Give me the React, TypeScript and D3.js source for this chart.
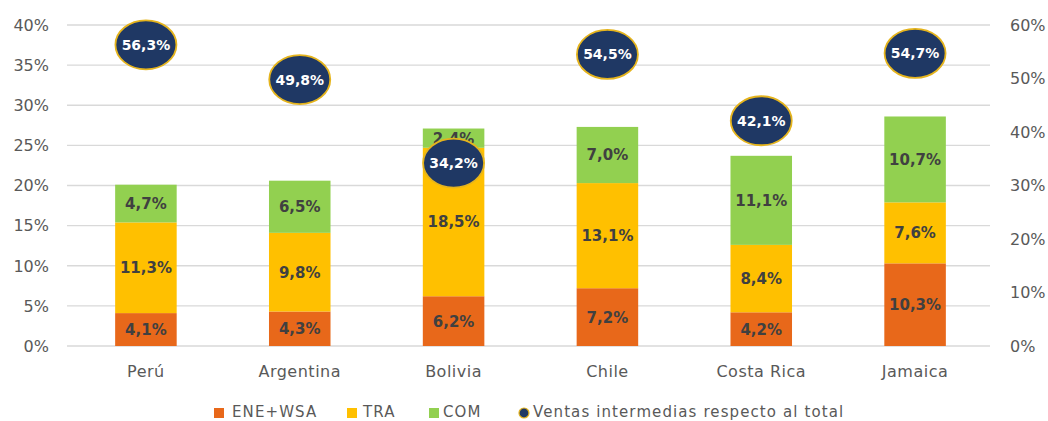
import React from "react";
import * as d3 from "d3";

const categories = ["Perú", "Argentina", "Bolivia", "Chile", "Costa Rica", "Jamaica"];
const ene = [4.1, 4.3, 6.2, 7.2, 4.2, 10.3];
const tra = [11.3, 9.8, 18.5, 13.1, 8.4, 7.6];
const com = [4.7, 6.5, 2.4, 7.0, 11.1, 10.7];
const ventas = [56.3, 49.8, 34.2, 54.5, 42.1, 54.7];
const leftTicks = [0, 5, 10, 15, 20, 25, 30, 35, 40];
const rightTicks = [0, 10, 20, 30, 40, 50, 60];
const seriesNames = ["ENE+WSA", "TRA", "COM", "Ventas intermedias respecto al total"];

const W = 1048, H = 421;
const colors = ["#e8681a", "#ffc000", "#92d050"];
const font = "'DejaVu Sans', Verdana, sans-serif";
const fmt = (v: number) => v.toFixed(1).replace(".", ",") + "%";

export default function App() {
  const x = d3.scaleBand<string>().domain(categories).range([69, 992]).paddingInner(0.6).paddingOuter(0.3);
  const yL = d3.scaleLinear().domain([0, 40]).range([346, 25]);
  const yR = d3.scaleLinear().domain([0, 60]).range([346, 25]);
  const series = [ene, tra, com];

  return (
    <svg width={W} height={H} style={{ position: "absolute", left: 0, top: 0, background: "#fff" }} fontFamily={font}>
      {leftTicks.map((t) => (
        <g key={"l" + t}>
          <line x1={67} x2={990} y1={yL(t)} y2={yL(t)} stroke="#d9d9d9" strokeWidth={1.3} />
          <text x={49} y={yL(t)} dy="0.36em" textAnchor="end" fontSize={16} fill="#595959">{t}%</text>
        </g>
      ))}
      {rightTicks.map((t) => (
        <text key={"r" + t} x={1010} y={yR(t)} dy="0.36em" textAnchor="start" fontSize={16} fill="#595959">{t}%</text>
      ))}
      {categories.map((c, i) => {
        let acc = 0;
        const bx = x(c)!;
        const bw = x.bandwidth();
        return (
          <g key={c}>
            {series.map((s, k) => {
              const y0 = acc;
              const y1 = acc + s[i];
              acc = y1;
              return (
                <g key={k}>
                  <rect x={bx} y={yL(y1)} width={bw} height={yL(y0) - yL(y1)} fill={colors[k]} />
                  <text x={bx + bw / 2} y={(yL(y0) + yL(y1)) / 2} dy="0.36em" textAnchor="middle" fontSize={15} fontWeight="bold" fill="#404040">{fmt(s[i])}</text>
                </g>
              );
            })}
            <text x={bx + bw / 2} y={371} dy="0.36em" textAnchor="middle" fontSize={16} letterSpacing={0.5} fill="#595959">{c}</text>
          </g>
        );
      })}
      {categories.map((c, i) => {
        const cx = x(c)! + x.bandwidth() / 2;
        const cy = yR(ventas[i]);
        return (
          <g key={"b" + c}>
            <ellipse cx={cx} cy={cy} rx={30.5} ry={24.5} fill="#1f3864" stroke="#e5b41d" strokeWidth={1.8} />
            <text x={cx} y={cy} dy="0.36em" textAnchor="middle" fontSize={14} fontWeight="bold" fill="#fff">{fmt(ventas[i])}</text>
          </g>
        );
      })}
      <g fontSize={15} fill="#595959" letterSpacing={1.1}>
        {[
          { sx: 214, tx: 232, k: 0 },
          { sx: 347, tx: 363, k: 1 },
          { sx: 429, tx: 443, k: 2 },
        ].map(({ sx, tx, k }) => (
          <g key={k}>
            <rect x={sx} y={408} width={10} height={10} fill={colors[k]} />
            <text x={tx} y={416.5} fill="#595959">{seriesNames[k]}</text>
          </g>
        ))}
        <circle cx={524} cy={413} r={5} fill="#1f3864" stroke="#e5b41d" strokeWidth={1.2} />
        <text x={533} y={416.5} fill="#595959">{seriesNames[3]}</text>
      </g>
    </svg>
  );
}
